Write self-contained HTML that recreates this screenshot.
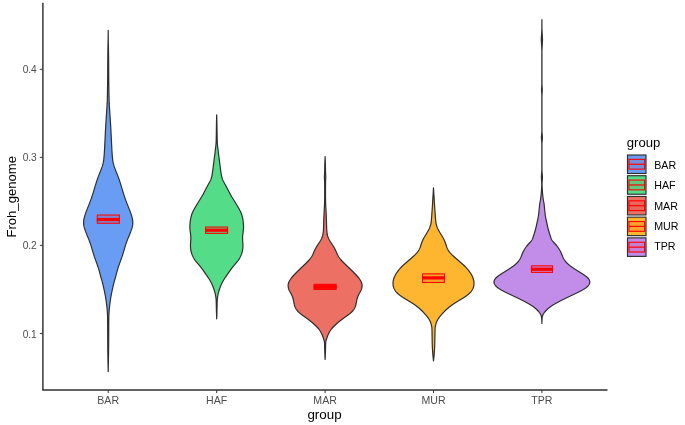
<!DOCTYPE html>
<html><head><meta charset="utf-8"><title>Froh_genome by group</title>
<style>
html,body{margin:0;padding:0;background:#fff;}
svg{display:block;}
text{font-family:"Liberation Sans",Arial,sans-serif;}
.tk{font-size:10.6px;fill:#4d4d4d;}
.ty{font-size:10.2px;fill:#4d4d4d;}
.tt{font-size:13.1px;fill:#000;}
.lg{font-size:10.7px;fill:#000;}
</style></head>
<body>
<svg width="685" height="425" viewBox="0 0 685 425">
<rect width="685" height="425" fill="#fff"/>
<path d="M108.20,30.40 L108.20,31.15 L108.19,31.90 L108.19,32.65 L108.18,33.40 L108.17,34.15 L108.17,34.90 L108.16,35.65 L108.15,36.40 L108.14,37.15 L108.13,37.90 L108.12,38.65 L108.11,39.40 L108.10,40.15 L108.08,40.90 L108.07,41.65 L108.05,42.40 L108.04,43.15 L108.02,43.90 L108.00,44.65 L107.98,45.40 L107.97,46.15 L107.95,46.90 L107.94,47.65 L107.93,48.40 L107.91,49.15 L107.90,49.90 L107.89,50.65 L107.88,51.40 L107.87,52.15 L107.86,52.90 L107.85,53.65 L107.84,54.40 L107.83,55.15 L107.82,55.90 L107.81,56.65 L107.81,57.40 L107.80,58.15 L107.79,58.90 L107.79,59.65 L107.78,60.40 L107.77,61.15 L107.77,61.90 L107.76,62.65 L107.76,63.40 L107.75,64.15 L107.75,64.90 L107.74,65.65 L107.74,66.40 L107.74,67.15 L107.73,67.90 L107.73,68.65 L107.72,69.40 L107.72,70.15 L107.72,70.90 L107.71,71.65 L107.71,72.40 L107.70,73.15 L107.70,73.90 L107.69,74.65 L107.69,75.40 L107.68,76.15 L107.68,76.90 L107.67,77.65 L107.66,78.40 L107.66,79.15 L107.65,79.90 L107.64,80.65 L107.63,81.40 L107.62,82.15 L107.61,82.90 L107.60,83.65 L107.59,84.40 L107.58,85.15 L107.57,85.90 L107.56,86.65 L107.54,87.40 L107.53,88.15 L107.52,88.90 L107.51,89.65 L107.49,90.40 L107.48,91.15 L107.47,91.90 L107.46,92.65 L107.44,93.40 L107.43,94.15 L107.42,94.90 L107.40,95.65 L107.39,96.40 L107.37,97.15 L107.35,97.90 L107.34,98.65 L107.32,99.40 L107.29,100.15 L107.27,100.90 L107.24,101.65 L107.21,102.40 L107.17,103.15 L107.14,103.90 L107.09,104.65 L107.05,105.40 L107.01,106.15 L106.96,106.90 L106.91,107.65 L106.86,108.40 L106.81,109.15 L106.76,109.90 L106.71,110.65 L106.67,111.40 L106.62,112.15 L106.57,112.90 L106.52,113.65 L106.48,114.40 L106.43,115.15 L106.38,115.90 L106.33,116.65 L106.29,117.40 L106.24,118.15 L106.19,118.90 L106.14,119.65 L106.09,120.40 L106.04,121.15 L105.99,121.90 L105.94,122.65 L105.89,123.40 L105.85,124.15 L105.80,124.90 L105.75,125.65 L105.71,126.40 L105.66,127.15 L105.62,127.90 L105.58,128.65 L105.53,129.40 L105.49,130.15 L105.45,130.90 L105.42,131.65 L105.38,132.40 L105.34,133.15 L105.30,133.90 L105.26,134.65 L105.23,135.40 L105.19,136.15 L105.15,136.90 L105.12,137.65 L105.08,138.40 L105.04,139.15 L105.01,139.90 L104.97,140.65 L104.93,141.40 L104.90,142.15 L104.86,142.90 L104.82,143.65 L104.79,144.40 L104.75,145.15 L104.72,145.90 L104.68,146.65 L104.64,147.40 L104.60,148.15 L104.56,148.90 L104.52,149.65 L104.48,150.40 L104.43,151.15 L104.38,151.90 L104.34,152.65 L104.29,153.40 L104.23,154.15 L104.18,154.90 L104.12,155.65 L104.06,156.40 L103.99,157.15 L103.92,157.90 L103.84,158.65 L103.76,159.40 L103.66,160.15 L103.55,160.90 L103.43,161.65 L103.28,162.40 L103.12,163.15 L102.93,163.90 L102.73,164.65 L102.52,165.40 L102.29,166.15 L102.05,166.90 L101.79,167.65 L101.52,168.40 L101.24,169.15 L100.95,169.90 L100.66,170.65 L100.36,171.40 L100.05,172.15 L99.75,172.90 L99.45,173.65 L99.15,174.40 L98.86,175.15 L98.57,175.90 L98.28,176.65 L98.01,177.40 L97.74,178.15 L97.47,178.90 L97.22,179.65 L96.96,180.40 L96.72,181.15 L96.47,181.90 L96.23,182.65 L96.00,183.40 L95.76,184.15 L95.53,184.90 L95.30,185.65 L95.08,186.40 L94.85,187.15 L94.63,187.90 L94.41,188.65 L94.19,189.40 L93.97,190.15 L93.74,190.90 L93.51,191.65 L93.28,192.40 L93.05,193.15 L92.81,193.90 L92.56,194.65 L92.32,195.40 L92.07,196.15 L91.82,196.90 L91.56,197.65 L91.30,198.40 L91.03,199.15 L90.76,199.90 L90.49,200.65 L90.21,201.40 L89.92,202.15 L89.63,202.90 L89.34,203.65 L89.04,204.40 L88.74,205.15 L88.44,205.90 L88.14,206.65 L87.84,207.40 L87.54,208.15 L87.24,208.90 L86.95,209.65 L86.65,210.40 L86.37,211.15 L86.08,211.90 L85.81,212.65 L85.54,213.40 L85.29,214.15 L85.04,214.90 L84.81,215.65 L84.60,216.40 L84.40,217.15 L84.22,217.90 L84.06,218.65 L83.91,219.40 L83.79,220.15 L83.70,220.90 L83.64,221.65 L83.61,222.40 L83.61,223.15 L83.64,223.90 L83.71,224.65 L83.81,225.40 L83.94,226.15 L84.10,226.90 L84.28,227.65 L84.50,228.40 L84.73,229.15 L84.99,229.90 L85.26,230.65 L85.54,231.40 L85.84,232.15 L86.14,232.90 L86.45,233.65 L86.75,234.40 L87.06,235.15 L87.37,235.90 L87.68,236.65 L87.99,237.40 L88.29,238.15 L88.58,238.90 L88.88,239.65 L89.16,240.40 L89.44,241.15 L89.72,241.90 L89.99,242.65 L90.25,243.40 L90.51,244.15 L90.75,244.90 L90.99,245.65 L91.23,246.40 L91.46,247.15 L91.68,247.90 L91.90,248.65 L92.12,249.40 L92.34,250.15 L92.56,250.90 L92.78,251.65 L93.01,252.40 L93.23,253.15 L93.46,253.90 L93.70,254.65 L93.94,255.40 L94.18,256.15 L94.44,256.90 L94.69,257.65 L94.96,258.40 L95.23,259.15 L95.50,259.90 L95.77,260.65 L96.04,261.40 L96.31,262.15 L96.58,262.90 L96.85,263.65 L97.11,264.40 L97.38,265.15 L97.64,265.90 L97.89,266.65 L98.14,267.40 L98.39,268.15 L98.62,268.90 L98.84,269.65 L99.06,270.40 L99.27,271.15 L99.47,271.90 L99.67,272.65 L99.86,273.40 L100.06,274.15 L100.26,274.90 L100.46,275.65 L100.66,276.40 L100.87,277.15 L101.09,277.90 L101.31,278.65 L101.53,279.40 L101.75,280.15 L101.97,280.90 L102.18,281.65 L102.39,282.40 L102.58,283.15 L102.77,283.90 L102.95,284.65 L103.13,285.40 L103.30,286.15 L103.47,286.90 L103.63,287.65 L103.80,288.40 L103.96,289.15 L104.12,289.90 L104.27,290.65 L104.43,291.40 L104.59,292.15 L104.74,292.90 L104.90,293.65 L105.05,294.40 L105.19,295.15 L105.33,295.90 L105.47,296.65 L105.60,297.40 L105.72,298.15 L105.84,298.90 L105.96,299.65 L106.07,300.40 L106.18,301.15 L106.28,301.90 L106.38,302.65 L106.48,303.40 L106.57,304.15 L106.66,304.90 L106.74,305.65 L106.83,306.40 L106.91,307.15 L106.99,307.90 L107.07,308.65 L107.14,309.40 L107.20,310.15 L107.26,310.90 L107.31,311.65 L107.36,312.40 L107.40,313.15 L107.44,313.90 L107.48,314.65 L107.52,315.40 L107.55,316.15 L107.57,316.90 L107.59,317.65 L107.60,318.40 L107.61,319.15 L107.62,319.90 L107.63,320.65 L107.63,321.40 L107.64,322.15 L107.64,322.90 L107.65,323.65 L107.65,324.40 L107.66,325.15 L107.66,325.90 L107.66,326.65 L107.67,327.40 L107.67,328.15 L107.67,328.90 L107.67,329.65 L107.68,330.40 L107.68,331.15 L107.68,331.90 L107.69,332.65 L107.69,333.40 L107.70,334.15 L107.70,334.90 L107.70,335.65 L107.71,336.40 L107.71,337.15 L107.72,337.90 L107.72,338.65 L107.73,339.40 L107.73,340.15 L107.73,340.90 L107.74,341.65 L107.74,342.40 L107.75,343.15 L107.75,343.90 L107.76,344.65 L107.76,345.40 L107.77,346.15 L107.77,346.90 L107.78,347.65 L107.79,348.40 L107.79,349.15 L107.80,349.90 L107.81,350.65 L107.82,351.40 L107.83,352.15 L107.84,352.90 L107.85,353.65 L107.86,354.40 L107.87,355.15 L107.89,355.90 L107.90,356.65 L107.91,357.40 L107.93,358.15 L107.94,358.90 L107.96,359.65 L107.97,360.40 L107.98,361.15 L108.00,361.90 L108.01,362.65 L108.03,363.40 L108.04,364.15 L108.06,364.90 L108.07,365.65 L108.09,366.40 L108.10,367.15 L108.12,367.90 L108.13,368.65 L108.15,369.40 L108.17,370.15 L108.18,370.90 L108.20,371.60 L108.20,371.60 L108.22,370.90 L108.23,370.15 L108.25,369.40 L108.27,368.65 L108.28,367.90 L108.30,367.15 L108.31,366.40 L108.33,365.65 L108.34,364.90 L108.36,364.15 L108.37,363.40 L108.39,362.65 L108.40,361.90 L108.42,361.15 L108.43,360.40 L108.44,359.65 L108.46,358.90 L108.47,358.15 L108.49,357.40 L108.50,356.65 L108.51,355.90 L108.53,355.15 L108.54,354.40 L108.55,353.65 L108.56,352.90 L108.57,352.15 L108.58,351.40 L108.59,350.65 L108.60,349.90 L108.61,349.15 L108.61,348.40 L108.62,347.65 L108.63,346.90 L108.63,346.15 L108.64,345.40 L108.64,344.65 L108.65,343.90 L108.65,343.15 L108.66,342.40 L108.66,341.65 L108.67,340.90 L108.67,340.15 L108.67,339.40 L108.68,338.65 L108.68,337.90 L108.69,337.15 L108.69,336.40 L108.70,335.65 L108.70,334.90 L108.70,334.15 L108.71,333.40 L108.71,332.65 L108.72,331.90 L108.72,331.15 L108.72,330.40 L108.73,329.65 L108.73,328.90 L108.73,328.15 L108.73,327.40 L108.74,326.65 L108.74,325.90 L108.74,325.15 L108.75,324.40 L108.75,323.65 L108.76,322.90 L108.76,322.15 L108.77,321.40 L108.77,320.65 L108.78,319.90 L108.79,319.15 L108.80,318.40 L108.81,317.65 L108.83,316.90 L108.85,316.15 L108.88,315.40 L108.92,314.65 L108.96,313.90 L109.00,313.15 L109.04,312.40 L109.09,311.65 L109.14,310.90 L109.20,310.15 L109.26,309.40 L109.33,308.65 L109.41,307.90 L109.49,307.15 L109.57,306.40 L109.66,305.65 L109.74,304.90 L109.83,304.15 L109.92,303.40 L110.02,302.65 L110.12,301.90 L110.22,301.15 L110.33,300.40 L110.44,299.65 L110.56,298.90 L110.68,298.15 L110.80,297.40 L110.93,296.65 L111.07,295.90 L111.21,295.15 L111.35,294.40 L111.50,293.65 L111.66,292.90 L111.81,292.15 L111.97,291.40 L112.13,290.65 L112.28,289.90 L112.44,289.15 L112.60,288.40 L112.77,287.65 L112.93,286.90 L113.10,286.15 L113.27,285.40 L113.45,284.65 L113.63,283.90 L113.82,283.15 L114.01,282.40 L114.22,281.65 L114.43,280.90 L114.65,280.15 L114.87,279.40 L115.09,278.65 L115.31,277.90 L115.53,277.15 L115.74,276.40 L115.94,275.65 L116.14,274.90 L116.34,274.15 L116.54,273.40 L116.73,272.65 L116.93,271.90 L117.13,271.15 L117.34,270.40 L117.56,269.65 L117.78,268.90 L118.01,268.15 L118.26,267.40 L118.51,266.65 L118.76,265.90 L119.02,265.15 L119.29,264.40 L119.55,263.65 L119.82,262.90 L120.09,262.15 L120.36,261.40 L120.63,260.65 L120.90,259.90 L121.17,259.15 L121.44,258.40 L121.71,257.65 L121.96,256.90 L122.22,256.15 L122.46,255.40 L122.70,254.65 L122.94,253.90 L123.17,253.15 L123.39,252.40 L123.62,251.65 L123.84,250.90 L124.06,250.15 L124.28,249.40 L124.50,248.65 L124.72,247.90 L124.94,247.15 L125.17,246.40 L125.41,245.65 L125.65,244.90 L125.89,244.15 L126.15,243.40 L126.41,242.65 L126.68,241.90 L126.96,241.15 L127.24,240.40 L127.52,239.65 L127.82,238.90 L128.11,238.15 L128.41,237.40 L128.72,236.65 L129.03,235.90 L129.34,235.15 L129.65,234.40 L129.95,233.65 L130.26,232.90 L130.56,232.15 L130.86,231.40 L131.14,230.65 L131.41,229.90 L131.67,229.15 L131.90,228.40 L132.12,227.65 L132.30,226.90 L132.46,226.15 L132.59,225.40 L132.69,224.65 L132.76,223.90 L132.79,223.15 L132.79,222.40 L132.76,221.65 L132.70,220.90 L132.61,220.15 L132.49,219.40 L132.34,218.65 L132.18,217.90 L132.00,217.15 L131.80,216.40 L131.59,215.65 L131.36,214.90 L131.11,214.15 L130.86,213.40 L130.59,212.65 L130.32,211.90 L130.03,211.15 L129.75,210.40 L129.45,209.65 L129.16,208.90 L128.86,208.15 L128.56,207.40 L128.26,206.65 L127.96,205.90 L127.66,205.15 L127.36,204.40 L127.06,203.65 L126.77,202.90 L126.48,202.15 L126.19,201.40 L125.91,200.65 L125.64,199.90 L125.37,199.15 L125.10,198.40 L124.84,197.65 L124.58,196.90 L124.33,196.15 L124.08,195.40 L123.84,194.65 L123.59,193.90 L123.35,193.15 L123.12,192.40 L122.89,191.65 L122.66,190.90 L122.43,190.15 L122.21,189.40 L121.99,188.65 L121.77,187.90 L121.55,187.15 L121.32,186.40 L121.10,185.65 L120.87,184.90 L120.64,184.15 L120.40,183.40 L120.17,182.65 L119.93,181.90 L119.68,181.15 L119.44,180.40 L119.18,179.65 L118.93,178.90 L118.66,178.15 L118.39,177.40 L118.12,176.65 L117.83,175.90 L117.54,175.15 L117.25,174.40 L116.95,173.65 L116.65,172.90 L116.35,172.15 L116.04,171.40 L115.74,170.65 L115.45,169.90 L115.16,169.15 L114.88,168.40 L114.61,167.65 L114.35,166.90 L114.11,166.15 L113.88,165.40 L113.67,164.65 L113.47,163.90 L113.28,163.15 L113.12,162.40 L112.97,161.65 L112.85,160.90 L112.74,160.15 L112.64,159.40 L112.56,158.65 L112.48,157.90 L112.41,157.15 L112.34,156.40 L112.28,155.65 L112.22,154.90 L112.17,154.15 L112.11,153.40 L112.06,152.65 L112.02,151.90 L111.97,151.15 L111.92,150.40 L111.88,149.65 L111.84,148.90 L111.80,148.15 L111.76,147.40 L111.72,146.65 L111.68,145.90 L111.65,145.15 L111.61,144.40 L111.58,143.65 L111.54,142.90 L111.50,142.15 L111.47,141.40 L111.43,140.65 L111.39,139.90 L111.36,139.15 L111.32,138.40 L111.28,137.65 L111.25,136.90 L111.21,136.15 L111.17,135.40 L111.14,134.65 L111.10,133.90 L111.06,133.15 L111.02,132.40 L110.98,131.65 L110.95,130.90 L110.91,130.15 L110.87,129.40 L110.82,128.65 L110.78,127.90 L110.74,127.15 L110.69,126.40 L110.65,125.65 L110.60,124.90 L110.55,124.15 L110.51,123.40 L110.46,122.65 L110.41,121.90 L110.36,121.15 L110.31,120.40 L110.26,119.65 L110.21,118.90 L110.16,118.15 L110.11,117.40 L110.07,116.65 L110.02,115.90 L109.97,115.15 L109.92,114.40 L109.88,113.65 L109.83,112.90 L109.78,112.15 L109.73,111.40 L109.69,110.65 L109.64,109.90 L109.59,109.15 L109.54,108.40 L109.49,107.65 L109.44,106.90 L109.39,106.15 L109.35,105.40 L109.31,104.65 L109.26,103.90 L109.23,103.15 L109.19,102.40 L109.16,101.65 L109.13,100.90 L109.11,100.15 L109.08,99.40 L109.06,98.65 L109.05,97.90 L109.03,97.15 L109.01,96.40 L109.00,95.65 L108.98,94.90 L108.97,94.15 L108.96,93.40 L108.94,92.65 L108.93,91.90 L108.92,91.15 L108.91,90.40 L108.89,89.65 L108.88,88.90 L108.87,88.15 L108.86,87.40 L108.84,86.65 L108.83,85.90 L108.82,85.15 L108.81,84.40 L108.80,83.65 L108.79,82.90 L108.78,82.15 L108.77,81.40 L108.76,80.65 L108.75,79.90 L108.74,79.15 L108.74,78.40 L108.73,77.65 L108.72,76.90 L108.72,76.15 L108.71,75.40 L108.71,74.65 L108.70,73.90 L108.70,73.15 L108.69,72.40 L108.69,71.65 L108.68,70.90 L108.68,70.15 L108.68,69.40 L108.67,68.65 L108.67,67.90 L108.66,67.15 L108.66,66.40 L108.66,65.65 L108.65,64.90 L108.65,64.15 L108.64,63.40 L108.64,62.65 L108.63,61.90 L108.63,61.15 L108.62,60.40 L108.61,59.65 L108.61,58.90 L108.60,58.15 L108.59,57.40 L108.59,56.65 L108.58,55.90 L108.57,55.15 L108.56,54.40 L108.55,53.65 L108.54,52.90 L108.53,52.15 L108.52,51.40 L108.51,50.65 L108.50,49.90 L108.49,49.15 L108.47,48.40 L108.46,47.65 L108.45,46.90 L108.43,46.15 L108.42,45.40 L108.40,44.65 L108.38,43.90 L108.36,43.15 L108.35,42.40 L108.33,41.65 L108.32,40.90 L108.30,40.15 L108.29,39.40 L108.28,38.65 L108.27,37.90 L108.26,37.15 L108.25,36.40 L108.24,35.65 L108.23,34.90 L108.23,34.15 L108.22,33.40 L108.21,32.65 L108.21,31.90 L108.20,31.15 L108.20,30.40Z" fill="#699df3" stroke="#2e2e2e" stroke-width="1.2" stroke-linejoin="round"/>
<path d="M216.70,114.80 L216.68,115.55 L216.66,116.30 L216.64,117.05 L216.62,117.80 L216.60,118.55 L216.58,119.30 L216.56,120.05 L216.54,120.80 L216.52,121.55 L216.51,122.30 L216.49,123.05 L216.47,123.80 L216.46,124.55 L216.45,125.30 L216.43,126.05 L216.42,126.80 L216.41,127.55 L216.40,128.30 L216.39,129.05 L216.38,129.80 L216.37,130.55 L216.36,131.30 L216.35,132.05 L216.34,132.80 L216.33,133.55 L216.31,134.30 L216.30,135.05 L216.28,135.80 L216.27,136.55 L216.25,137.30 L216.24,138.05 L216.22,138.80 L216.20,139.55 L216.18,140.30 L216.16,141.05 L216.13,141.80 L216.10,142.55 L216.06,143.30 L216.00,144.05 L215.94,144.80 L215.87,145.55 L215.78,146.30 L215.70,147.05 L215.60,147.80 L215.51,148.55 L215.42,149.30 L215.33,150.05 L215.24,150.80 L215.15,151.55 L215.06,152.30 L214.97,153.05 L214.88,153.80 L214.78,154.55 L214.68,155.30 L214.59,156.05 L214.49,156.80 L214.39,157.55 L214.30,158.30 L214.20,159.05 L214.11,159.80 L214.01,160.55 L213.91,161.30 L213.81,162.05 L213.72,162.80 L213.62,163.55 L213.52,164.30 L213.42,165.05 L213.33,165.80 L213.23,166.55 L213.14,167.30 L213.04,168.05 L212.95,168.80 L212.86,169.55 L212.76,170.30 L212.66,171.05 L212.56,171.80 L212.45,172.55 L212.33,173.30 L212.21,174.05 L212.08,174.80 L211.94,175.55 L211.79,176.30 L211.62,177.05 L211.43,177.80 L211.20,178.55 L210.92,179.30 L210.61,180.05 L210.27,180.80 L209.90,181.55 L209.50,182.30 L209.09,183.05 L208.66,183.80 L208.25,184.55 L207.84,185.30 L207.44,186.05 L207.04,186.80 L206.65,187.55 L206.26,188.30 L205.86,189.05 L205.47,189.80 L205.07,190.55 L204.68,191.30 L204.29,192.05 L203.90,192.80 L203.51,193.55 L203.11,194.30 L202.70,195.05 L202.28,195.80 L201.84,196.55 L201.38,197.30 L200.92,198.05 L200.45,198.80 L199.98,199.55 L199.51,200.30 L199.04,201.05 L198.57,201.80 L198.11,202.55 L197.65,203.30 L197.19,204.05 L196.73,204.80 L196.28,205.55 L195.84,206.30 L195.39,207.05 L194.96,207.80 L194.53,208.55 L194.12,209.30 L193.71,210.05 L193.32,210.80 L192.96,211.55 L192.61,212.30 L192.29,213.05 L191.99,213.80 L191.72,214.55 L191.47,215.30 L191.25,216.05 L191.06,216.80 L190.88,217.55 L190.73,218.30 L190.59,219.05 L190.46,219.80 L190.35,220.55 L190.26,221.30 L190.17,222.05 L190.09,222.80 L190.03,223.55 L189.97,224.30 L189.92,225.05 L189.89,225.80 L189.88,226.55 L189.88,227.30 L189.90,228.05 L189.94,228.80 L190.01,229.55 L190.08,230.30 L190.17,231.05 L190.27,231.80 L190.37,232.55 L190.47,233.30 L190.57,234.05 L190.65,234.80 L190.72,235.55 L190.77,236.30 L190.81,237.05 L190.82,237.80 L190.81,238.55 L190.79,239.30 L190.76,240.05 L190.71,240.80 L190.67,241.55 L190.62,242.30 L190.57,243.05 L190.53,243.80 L190.50,244.55 L190.48,245.30 L190.48,246.05 L190.50,246.80 L190.54,247.55 L190.60,248.30 L190.69,249.05 L190.80,249.80 L190.93,250.55 L191.09,251.30 L191.27,252.05 L191.47,252.80 L191.70,253.55 L191.96,254.30 L192.24,255.05 L192.55,255.80 L192.90,256.55 L193.28,257.30 L193.69,258.05 L194.14,258.80 L194.64,259.55 L195.18,260.30 L195.75,261.05 L196.36,261.80 L196.99,262.55 L197.64,263.30 L198.28,264.05 L198.92,264.80 L199.55,265.55 L200.16,266.30 L200.75,267.05 L201.33,267.80 L201.89,268.55 L202.44,269.30 L202.98,270.05 L203.51,270.80 L204.04,271.55 L204.57,272.30 L205.09,273.05 L205.61,273.80 L206.13,274.55 L206.65,275.30 L207.17,276.05 L207.69,276.80 L208.19,277.55 L208.67,278.30 L209.14,279.05 L209.59,279.80 L210.03,280.55 L210.45,281.30 L210.86,282.05 L211.24,282.80 L211.61,283.55 L211.96,284.30 L212.29,285.05 L212.62,285.80 L212.92,286.55 L213.22,287.30 L213.50,288.05 L213.77,288.80 L214.02,289.55 L214.27,290.30 L214.50,291.05 L214.71,291.80 L214.91,292.55 L215.11,293.30 L215.29,294.05 L215.46,294.80 L215.61,295.55 L215.73,296.30 L215.84,297.05 L215.92,297.80 L216.00,298.55 L216.07,299.30 L216.13,300.05 L216.17,300.80 L216.21,301.55 L216.23,302.30 L216.25,303.05 L216.27,303.80 L216.29,304.55 L216.31,305.30 L216.32,306.05 L216.33,306.80 L216.35,307.55 L216.36,308.30 L216.38,309.05 L216.40,309.80 L216.42,310.55 L216.44,311.30 L216.46,312.05 L216.48,312.80 L216.51,313.55 L216.53,314.30 L216.56,315.05 L216.59,315.80 L216.61,316.55 L216.64,317.30 L216.67,318.05 L216.70,318.80 L216.70,318.80 L216.73,318.05 L216.76,317.30 L216.79,316.55 L216.81,315.80 L216.84,315.05 L216.87,314.30 L216.89,313.55 L216.92,312.80 L216.94,312.05 L216.96,311.30 L216.98,310.55 L217.00,309.80 L217.02,309.05 L217.04,308.30 L217.05,307.55 L217.07,306.80 L217.08,306.05 L217.09,305.30 L217.11,304.55 L217.13,303.80 L217.15,303.05 L217.17,302.30 L217.19,301.55 L217.23,300.80 L217.27,300.05 L217.33,299.30 L217.40,298.55 L217.48,297.80 L217.56,297.05 L217.67,296.30 L217.79,295.55 L217.94,294.80 L218.11,294.05 L218.29,293.30 L218.49,292.55 L218.69,291.80 L218.90,291.05 L219.13,290.30 L219.38,289.55 L219.63,288.80 L219.90,288.05 L220.18,287.30 L220.48,286.55 L220.78,285.80 L221.11,285.05 L221.44,284.30 L221.79,283.55 L222.16,282.80 L222.54,282.05 L222.95,281.30 L223.37,280.55 L223.81,279.80 L224.26,279.05 L224.73,278.30 L225.21,277.55 L225.71,276.80 L226.23,276.05 L226.75,275.30 L227.27,274.55 L227.79,273.80 L228.31,273.05 L228.83,272.30 L229.36,271.55 L229.89,270.80 L230.42,270.05 L230.96,269.30 L231.51,268.55 L232.07,267.80 L232.65,267.05 L233.24,266.30 L233.85,265.55 L234.48,264.80 L235.12,264.05 L235.76,263.30 L236.41,262.55 L237.04,261.80 L237.65,261.05 L238.22,260.30 L238.76,259.55 L239.26,258.80 L239.71,258.05 L240.12,257.30 L240.50,256.55 L240.85,255.80 L241.16,255.05 L241.44,254.30 L241.70,253.55 L241.93,252.80 L242.13,252.05 L242.31,251.30 L242.47,250.55 L242.60,249.80 L242.71,249.05 L242.80,248.30 L242.86,247.55 L242.90,246.80 L242.92,246.05 L242.92,245.30 L242.90,244.55 L242.87,243.80 L242.83,243.05 L242.78,242.30 L242.73,241.55 L242.69,240.80 L242.64,240.05 L242.61,239.30 L242.59,238.55 L242.58,237.80 L242.59,237.05 L242.63,236.30 L242.68,235.55 L242.75,234.80 L242.83,234.05 L242.93,233.30 L243.03,232.55 L243.13,231.80 L243.23,231.05 L243.32,230.30 L243.39,229.55 L243.46,228.80 L243.50,228.05 L243.52,227.30 L243.52,226.55 L243.51,225.80 L243.48,225.05 L243.43,224.30 L243.37,223.55 L243.31,222.80 L243.23,222.05 L243.14,221.30 L243.05,220.55 L242.94,219.80 L242.81,219.05 L242.67,218.30 L242.52,217.55 L242.34,216.80 L242.15,216.05 L241.93,215.30 L241.68,214.55 L241.41,213.80 L241.11,213.05 L240.79,212.30 L240.44,211.55 L240.08,210.80 L239.69,210.05 L239.28,209.30 L238.87,208.55 L238.44,207.80 L238.01,207.05 L237.56,206.30 L237.12,205.55 L236.67,204.80 L236.21,204.05 L235.75,203.30 L235.29,202.55 L234.83,201.80 L234.36,201.05 L233.89,200.30 L233.42,199.55 L232.95,198.80 L232.48,198.05 L232.02,197.30 L231.56,196.55 L231.12,195.80 L230.70,195.05 L230.29,194.30 L229.89,193.55 L229.50,192.80 L229.11,192.05 L228.72,191.30 L228.33,190.55 L227.93,189.80 L227.54,189.05 L227.14,188.30 L226.75,187.55 L226.36,186.80 L225.96,186.05 L225.56,185.30 L225.15,184.55 L224.74,183.80 L224.31,183.05 L223.90,182.30 L223.50,181.55 L223.13,180.80 L222.79,180.05 L222.48,179.30 L222.20,178.55 L221.97,177.80 L221.78,177.05 L221.61,176.30 L221.46,175.55 L221.32,174.80 L221.19,174.05 L221.07,173.30 L220.95,172.55 L220.84,171.80 L220.74,171.05 L220.64,170.30 L220.54,169.55 L220.45,168.80 L220.36,168.05 L220.26,167.30 L220.17,166.55 L220.07,165.80 L219.98,165.05 L219.88,164.30 L219.78,163.55 L219.68,162.80 L219.59,162.05 L219.49,161.30 L219.39,160.55 L219.29,159.80 L219.20,159.05 L219.10,158.30 L219.01,157.55 L218.91,156.80 L218.81,156.05 L218.72,155.30 L218.62,154.55 L218.52,153.80 L218.43,153.05 L218.34,152.30 L218.25,151.55 L218.16,150.80 L218.07,150.05 L217.98,149.30 L217.89,148.55 L217.80,147.80 L217.70,147.05 L217.62,146.30 L217.53,145.55 L217.46,144.80 L217.40,144.05 L217.34,143.30 L217.30,142.55 L217.27,141.80 L217.24,141.05 L217.22,140.30 L217.20,139.55 L217.18,138.80 L217.16,138.05 L217.15,137.30 L217.13,136.55 L217.12,135.80 L217.10,135.05 L217.09,134.30 L217.07,133.55 L217.06,132.80 L217.05,132.05 L217.04,131.30 L217.03,130.55 L217.02,129.80 L217.01,129.05 L217.00,128.30 L216.99,127.55 L216.98,126.80 L216.97,126.05 L216.95,125.30 L216.94,124.55 L216.93,123.80 L216.91,123.05 L216.89,122.30 L216.88,121.55 L216.86,120.80 L216.84,120.05 L216.82,119.30 L216.80,118.55 L216.78,117.80 L216.76,117.05 L216.74,116.30 L216.72,115.55 L216.70,114.80Z" fill="#54dc89" stroke="#2e2e2e" stroke-width="1.2" stroke-linejoin="round"/>
<path d="M325.10,156.50 L325.07,157.25 L325.04,158.00 L325.01,158.75 L324.98,159.50 L324.95,160.25 L324.92,161.00 L324.90,161.75 L324.87,162.50 L324.85,163.25 L324.83,164.00 L324.81,164.75 L324.79,165.50 L324.77,166.25 L324.76,167.00 L324.74,167.75 L324.73,168.50 L324.71,169.25 L324.70,170.00 L324.68,170.75 L324.66,171.50 L324.63,172.25 L324.60,173.00 L324.55,173.75 L324.51,174.50 L324.46,175.25 L324.43,176.00 L324.41,176.75 L324.42,177.50 L324.45,178.25 L324.49,179.00 L324.54,179.75 L324.58,180.50 L324.62,181.25 L324.64,182.00 L324.65,182.75 L324.66,183.50 L324.67,184.25 L324.67,185.00 L324.68,185.75 L324.68,186.50 L324.68,187.25 L324.69,188.00 L324.69,188.75 L324.69,189.50 L324.69,190.25 L324.70,191.00 L324.70,191.75 L324.70,192.50 L324.70,193.25 L324.70,194.00 L324.70,194.75 L324.70,195.50 L324.69,196.25 L324.69,197.00 L324.68,197.75 L324.67,198.50 L324.65,199.25 L324.64,200.00 L324.62,200.75 L324.60,201.50 L324.58,202.25 L324.56,203.00 L324.54,203.75 L324.51,204.50 L324.49,205.25 L324.46,206.00 L324.42,206.75 L324.38,207.50 L324.33,208.25 L324.29,209.00 L324.24,209.75 L324.19,210.50 L324.15,211.25 L324.11,212.00 L324.07,212.75 L324.03,213.50 L324.00,214.25 L323.96,215.00 L323.93,215.75 L323.90,216.50 L323.87,217.25 L323.84,218.00 L323.81,218.75 L323.79,219.50 L323.77,220.25 L323.74,221.00 L323.72,221.75 L323.71,222.50 L323.69,223.25 L323.67,224.00 L323.65,224.75 L323.62,225.50 L323.60,226.25 L323.57,227.00 L323.54,227.75 L323.50,228.50 L323.47,229.25 L323.42,230.00 L323.37,230.75 L323.30,231.50 L323.23,232.25 L323.14,233.00 L323.03,233.75 L322.90,234.50 L322.73,235.25 L322.52,236.00 L322.27,236.75 L321.99,237.50 L321.67,238.25 L321.33,239.00 L320.95,239.75 L320.53,240.50 L320.08,241.25 L319.60,242.00 L319.12,242.75 L318.64,243.50 L318.14,244.25 L317.65,245.00 L317.15,245.75 L316.68,246.50 L316.23,247.25 L315.81,248.00 L315.41,248.75 L315.03,249.50 L314.66,250.25 L314.32,251.00 L313.98,251.75 L313.66,252.50 L313.35,253.25 L313.03,254.00 L312.68,254.75 L312.29,255.50 L311.87,256.25 L311.40,257.00 L310.88,257.75 L310.32,258.50 L309.72,259.25 L309.08,260.00 L308.41,260.75 L307.71,261.50 L306.98,262.25 L306.23,263.00 L305.47,263.75 L304.69,264.50 L303.91,265.25 L303.12,266.00 L302.33,266.75 L301.54,267.50 L300.76,268.25 L299.98,269.00 L299.21,269.75 L298.44,270.50 L297.68,271.25 L296.92,272.00 L296.18,272.75 L295.44,273.50 L294.72,274.25 L294.01,275.00 L293.32,275.75 L292.66,276.50 L292.02,277.25 L291.41,278.00 L290.85,278.75 L290.32,279.50 L289.84,280.25 L289.41,281.00 L289.03,281.75 L288.72,282.50 L288.47,283.25 L288.29,284.00 L288.17,284.75 L288.12,285.50 L288.14,286.25 L288.21,287.00 L288.34,287.75 L288.52,288.50 L288.76,289.25 L289.06,290.00 L289.40,290.75 L289.77,291.50 L290.18,292.25 L290.60,293.00 L291.02,293.75 L291.42,294.50 L291.80,295.25 L292.15,296.00 L292.45,296.75 L292.72,297.50 L292.95,298.25 L293.15,299.00 L293.33,299.75 L293.49,300.50 L293.64,301.25 L293.78,302.00 L293.92,302.75 L294.07,303.50 L294.24,304.25 L294.42,305.00 L294.64,305.75 L294.88,306.50 L295.18,307.25 L295.52,308.00 L295.93,308.75 L296.41,309.50 L296.96,310.25 L297.60,311.00 L298.31,311.75 L299.09,312.50 L299.95,313.25 L300.87,314.00 L301.84,314.75 L302.85,315.50 L303.88,316.25 L304.93,317.00 L305.98,317.75 L307.02,318.50 L308.04,319.25 L309.04,320.00 L310.01,320.75 L310.95,321.50 L311.86,322.25 L312.72,323.00 L313.57,323.75 L314.39,324.50 L315.19,325.25 L315.98,326.00 L316.73,326.75 L317.45,327.50 L318.11,328.25 L318.72,329.00 L319.28,329.75 L319.80,330.50 L320.28,331.25 L320.73,332.00 L321.15,332.75 L321.53,333.50 L321.88,334.25 L322.21,335.00 L322.52,335.75 L322.81,336.50 L323.08,337.25 L323.33,338.00 L323.58,338.75 L323.82,339.50 L324.05,340.25 L324.25,341.00 L324.39,341.75 L324.48,342.50 L324.53,343.25 L324.56,344.00 L324.59,344.75 L324.60,345.50 L324.62,346.25 L324.63,347.00 L324.65,347.75 L324.66,348.50 L324.68,349.25 L324.70,350.00 L324.73,350.75 L324.75,351.50 L324.78,352.25 L324.81,353.00 L324.84,353.75 L324.87,354.50 L324.90,355.25 L324.94,356.00 L324.97,356.75 L325.01,357.50 L325.04,358.25 L325.07,359.00 L325.10,359.40 L325.10,359.40 L325.13,359.00 L325.16,358.25 L325.19,357.50 L325.23,356.75 L325.26,356.00 L325.30,355.25 L325.33,354.50 L325.36,353.75 L325.39,353.00 L325.42,352.25 L325.45,351.50 L325.47,350.75 L325.50,350.00 L325.52,349.25 L325.54,348.50 L325.55,347.75 L325.57,347.00 L325.58,346.25 L325.60,345.50 L325.61,344.75 L325.64,344.00 L325.67,343.25 L325.72,342.50 L325.81,341.75 L325.95,341.00 L326.15,340.25 L326.38,339.50 L326.62,338.75 L326.87,338.00 L327.12,337.25 L327.39,336.50 L327.68,335.75 L327.99,335.00 L328.32,334.25 L328.67,333.50 L329.05,332.75 L329.47,332.00 L329.92,331.25 L330.40,330.50 L330.92,329.75 L331.48,329.00 L332.09,328.25 L332.75,327.50 L333.47,326.75 L334.22,326.00 L335.01,325.25 L335.81,324.50 L336.63,323.75 L337.48,323.00 L338.34,322.25 L339.25,321.50 L340.19,320.75 L341.16,320.00 L342.16,319.25 L343.18,318.50 L344.22,317.75 L345.27,317.00 L346.32,316.25 L347.35,315.50 L348.36,314.75 L349.33,314.00 L350.25,313.25 L351.11,312.50 L351.89,311.75 L352.60,311.00 L353.24,310.25 L353.79,309.50 L354.27,308.75 L354.68,308.00 L355.02,307.25 L355.32,306.50 L355.56,305.75 L355.78,305.00 L355.96,304.25 L356.13,303.50 L356.28,302.75 L356.42,302.00 L356.56,301.25 L356.71,300.50 L356.87,299.75 L357.05,299.00 L357.25,298.25 L357.48,297.50 L357.75,296.75 L358.05,296.00 L358.40,295.25 L358.78,294.50 L359.18,293.75 L359.60,293.00 L360.02,292.25 L360.43,291.50 L360.80,290.75 L361.14,290.00 L361.44,289.25 L361.68,288.50 L361.86,287.75 L361.99,287.00 L362.06,286.25 L362.08,285.50 L362.03,284.75 L361.91,284.00 L361.73,283.25 L361.48,282.50 L361.17,281.75 L360.79,281.00 L360.36,280.25 L359.88,279.50 L359.35,278.75 L358.79,278.00 L358.18,277.25 L357.54,276.50 L356.88,275.75 L356.19,275.00 L355.48,274.25 L354.76,273.50 L354.02,272.75 L353.28,272.00 L352.52,271.25 L351.76,270.50 L350.99,269.75 L350.22,269.00 L349.44,268.25 L348.66,267.50 L347.87,266.75 L347.08,266.00 L346.29,265.25 L345.51,264.50 L344.73,263.75 L343.97,263.00 L343.22,262.25 L342.49,261.50 L341.79,260.75 L341.12,260.00 L340.48,259.25 L339.88,258.50 L339.32,257.75 L338.80,257.00 L338.33,256.25 L337.91,255.50 L337.52,254.75 L337.17,254.00 L336.85,253.25 L336.54,252.50 L336.22,251.75 L335.88,251.00 L335.54,250.25 L335.17,249.50 L334.79,248.75 L334.39,248.00 L333.97,247.25 L333.52,246.50 L333.05,245.75 L332.55,245.00 L332.06,244.25 L331.56,243.50 L331.08,242.75 L330.60,242.00 L330.12,241.25 L329.67,240.50 L329.25,239.75 L328.87,239.00 L328.53,238.25 L328.21,237.50 L327.93,236.75 L327.68,236.00 L327.47,235.25 L327.30,234.50 L327.17,233.75 L327.06,233.00 L326.97,232.25 L326.90,231.50 L326.83,230.75 L326.78,230.00 L326.73,229.25 L326.70,228.50 L326.66,227.75 L326.63,227.00 L326.60,226.25 L326.58,225.50 L326.55,224.75 L326.53,224.00 L326.51,223.25 L326.49,222.50 L326.48,221.75 L326.46,221.00 L326.43,220.25 L326.41,219.50 L326.39,218.75 L326.36,218.00 L326.33,217.25 L326.30,216.50 L326.27,215.75 L326.24,215.00 L326.20,214.25 L326.17,213.50 L326.13,212.75 L326.09,212.00 L326.05,211.25 L326.01,210.50 L325.96,209.75 L325.91,209.00 L325.87,208.25 L325.82,207.50 L325.78,206.75 L325.74,206.00 L325.71,205.25 L325.69,204.50 L325.66,203.75 L325.64,203.00 L325.62,202.25 L325.60,201.50 L325.58,200.75 L325.56,200.00 L325.55,199.25 L325.53,198.50 L325.52,197.75 L325.51,197.00 L325.51,196.25 L325.50,195.50 L325.50,194.75 L325.50,194.00 L325.50,193.25 L325.50,192.50 L325.50,191.75 L325.50,191.00 L325.51,190.25 L325.51,189.50 L325.51,188.75 L325.51,188.00 L325.52,187.25 L325.52,186.50 L325.52,185.75 L325.53,185.00 L325.53,184.25 L325.54,183.50 L325.55,182.75 L325.56,182.00 L325.58,181.25 L325.62,180.50 L325.66,179.75 L325.71,179.00 L325.75,178.25 L325.78,177.50 L325.79,176.75 L325.77,176.00 L325.74,175.25 L325.69,174.50 L325.65,173.75 L325.60,173.00 L325.57,172.25 L325.54,171.50 L325.52,170.75 L325.50,170.00 L325.49,169.25 L325.47,168.50 L325.46,167.75 L325.44,167.00 L325.43,166.25 L325.41,165.50 L325.39,164.75 L325.37,164.00 L325.35,163.25 L325.33,162.50 L325.30,161.75 L325.28,161.00 L325.25,160.25 L325.22,159.50 L325.19,158.75 L325.16,158.00 L325.13,157.25 L325.10,156.50Z" fill="#ec7064" stroke="#2e2e2e" stroke-width="1.2" stroke-linejoin="round"/>
<path d="M433.50,187.80 L433.46,188.55 L433.42,189.30 L433.37,190.05 L433.33,190.80 L433.29,191.55 L433.24,192.30 L433.20,193.05 L433.15,193.80 L433.10,194.55 L433.05,195.30 L433.00,196.05 L432.95,196.80 L432.90,197.55 L432.85,198.30 L432.80,199.05 L432.76,199.80 L432.72,200.55 L432.68,201.30 L432.63,202.05 L432.59,202.80 L432.55,203.55 L432.51,204.30 L432.47,205.05 L432.42,205.80 L432.38,206.55 L432.33,207.30 L432.28,208.05 L432.22,208.80 L432.17,209.55 L432.11,210.30 L432.06,211.05 L432.00,211.80 L431.95,212.55 L431.89,213.30 L431.84,214.05 L431.79,214.80 L431.75,215.55 L431.70,216.30 L431.64,217.05 L431.59,217.80 L431.53,218.55 L431.46,219.30 L431.39,220.05 L431.31,220.80 L431.22,221.55 L431.11,222.30 L430.99,223.05 L430.85,223.80 L430.68,224.55 L430.47,225.30 L430.25,226.05 L430.00,226.80 L429.72,227.55 L429.41,228.30 L429.06,229.05 L428.68,229.80 L428.28,230.55 L427.86,231.30 L427.44,232.05 L427.00,232.80 L426.54,233.55 L426.09,234.30 L425.63,235.05 L425.17,235.80 L424.72,236.55 L424.28,237.30 L423.85,238.05 L423.45,238.80 L423.06,239.55 L422.70,240.30 L422.37,241.05 L422.07,241.80 L421.80,242.55 L421.54,243.30 L421.29,244.05 L421.05,244.80 L420.81,245.55 L420.56,246.30 L420.30,247.05 L420.00,247.80 L419.66,248.55 L419.27,249.30 L418.82,250.05 L418.33,250.80 L417.78,251.55 L417.20,252.30 L416.58,253.05 L415.91,253.80 L415.21,254.55 L414.47,255.30 L413.70,256.05 L412.90,256.80 L412.08,257.55 L411.24,258.30 L410.39,259.05 L409.53,259.80 L408.66,260.55 L407.78,261.30 L406.91,262.05 L406.04,262.80 L405.18,263.55 L404.33,264.30 L403.49,265.05 L402.68,265.80 L401.90,266.55 L401.14,267.30 L400.41,268.05 L399.73,268.80 L399.08,269.55 L398.46,270.30 L397.89,271.05 L397.35,271.80 L396.84,272.55 L396.37,273.30 L395.92,274.05 L395.49,274.80 L395.10,275.55 L394.73,276.30 L394.39,277.05 L394.09,277.80 L393.82,278.55 L393.58,279.30 L393.39,280.05 L393.23,280.80 L393.11,281.55 L393.04,282.30 L393.00,283.05 L393.00,283.80 L393.05,284.55 L393.13,285.30 L393.26,286.05 L393.43,286.80 L393.66,287.55 L393.95,288.30 L394.29,289.05 L394.70,289.80 L395.18,290.55 L395.72,291.30 L396.34,292.05 L397.03,292.80 L397.79,293.55 L398.62,294.30 L399.53,295.05 L400.51,295.80 L401.56,296.55 L402.67,297.30 L403.83,298.05 L405.03,298.80 L406.27,299.55 L407.52,300.30 L408.78,301.05 L410.03,301.80 L411.25,302.55 L412.43,303.30 L413.57,304.05 L414.66,304.80 L415.70,305.55 L416.69,306.30 L417.65,307.05 L418.58,307.80 L419.46,308.55 L420.31,309.30 L421.13,310.05 L421.92,310.80 L422.68,311.55 L423.41,312.30 L424.12,313.05 L424.81,313.80 L425.48,314.55 L426.14,315.30 L426.77,316.05 L427.36,316.80 L427.91,317.55 L428.41,318.30 L428.88,319.05 L429.32,319.80 L429.73,320.55 L430.10,321.30 L430.43,322.05 L430.71,322.80 L430.96,323.55 L431.18,324.30 L431.39,325.05 L431.56,325.80 L431.71,326.55 L431.82,327.30 L431.89,328.05 L431.93,328.80 L431.96,329.55 L431.98,330.30 L432.00,331.05 L432.02,331.80 L432.03,332.55 L432.05,333.30 L432.06,334.05 L432.07,334.80 L432.09,335.55 L432.10,336.30 L432.12,337.05 L432.13,337.80 L432.14,338.55 L432.15,339.30 L432.16,340.05 L432.18,340.80 L432.19,341.55 L432.20,342.30 L432.22,343.05 L432.24,343.80 L432.26,344.55 L432.28,345.30 L432.31,346.05 L432.34,346.80 L432.38,347.55 L432.42,348.30 L432.46,349.05 L432.51,349.80 L432.56,350.55 L432.60,351.30 L432.66,352.05 L432.71,352.80 L432.76,353.55 L432.82,354.30 L432.89,355.05 L432.95,355.80 L433.02,356.55 L433.10,357.30 L433.17,358.05 L433.25,358.80 L433.33,359.55 L433.41,360.30 L433.50,361.00 L433.50,361.00 L433.59,360.30 L433.67,359.55 L433.75,358.80 L433.83,358.05 L433.90,357.30 L433.98,356.55 L434.05,355.80 L434.11,355.05 L434.18,354.30 L434.24,353.55 L434.29,352.80 L434.34,352.05 L434.40,351.30 L434.44,350.55 L434.49,349.80 L434.54,349.05 L434.58,348.30 L434.62,347.55 L434.66,346.80 L434.69,346.05 L434.72,345.30 L434.74,344.55 L434.76,343.80 L434.78,343.05 L434.80,342.30 L434.81,341.55 L434.82,340.80 L434.84,340.05 L434.85,339.30 L434.86,338.55 L434.87,337.80 L434.88,337.05 L434.90,336.30 L434.91,335.55 L434.93,334.80 L434.94,334.05 L434.95,333.30 L434.97,332.55 L434.98,331.80 L435.00,331.05 L435.02,330.30 L435.04,329.55 L435.07,328.80 L435.11,328.05 L435.18,327.30 L435.29,326.55 L435.44,325.80 L435.61,325.05 L435.82,324.30 L436.04,323.55 L436.29,322.80 L436.57,322.05 L436.90,321.30 L437.27,320.55 L437.68,319.80 L438.12,319.05 L438.59,318.30 L439.09,317.55 L439.64,316.80 L440.23,316.05 L440.86,315.30 L441.52,314.55 L442.19,313.80 L442.88,313.05 L443.59,312.30 L444.32,311.55 L445.08,310.80 L445.87,310.05 L446.69,309.30 L447.54,308.55 L448.42,307.80 L449.35,307.05 L450.31,306.30 L451.30,305.55 L452.34,304.80 L453.43,304.05 L454.57,303.30 L455.75,302.55 L456.97,301.80 L458.22,301.05 L459.48,300.30 L460.73,299.55 L461.97,298.80 L463.17,298.05 L464.33,297.30 L465.44,296.55 L466.49,295.80 L467.47,295.05 L468.38,294.30 L469.21,293.55 L469.97,292.80 L470.66,292.05 L471.28,291.30 L471.82,290.55 L472.30,289.80 L472.71,289.05 L473.05,288.30 L473.34,287.55 L473.57,286.80 L473.74,286.05 L473.87,285.30 L473.95,284.55 L474.00,283.80 L474.00,283.05 L473.96,282.30 L473.89,281.55 L473.77,280.80 L473.61,280.05 L473.42,279.30 L473.18,278.55 L472.91,277.80 L472.61,277.05 L472.27,276.30 L471.90,275.55 L471.51,274.80 L471.08,274.05 L470.63,273.30 L470.16,272.55 L469.65,271.80 L469.11,271.05 L468.54,270.30 L467.92,269.55 L467.27,268.80 L466.59,268.05 L465.86,267.30 L465.10,266.55 L464.32,265.80 L463.51,265.05 L462.67,264.30 L461.82,263.55 L460.96,262.80 L460.09,262.05 L459.22,261.30 L458.34,260.55 L457.47,259.80 L456.61,259.05 L455.76,258.30 L454.92,257.55 L454.10,256.80 L453.30,256.05 L452.53,255.30 L451.79,254.55 L451.09,253.80 L450.42,253.05 L449.80,252.30 L449.22,251.55 L448.67,250.80 L448.18,250.05 L447.73,249.30 L447.34,248.55 L447.00,247.80 L446.70,247.05 L446.44,246.30 L446.19,245.55 L445.95,244.80 L445.71,244.05 L445.46,243.30 L445.20,242.55 L444.93,241.80 L444.63,241.05 L444.30,240.30 L443.94,239.55 L443.55,238.80 L443.15,238.05 L442.72,237.30 L442.28,236.55 L441.83,235.80 L441.37,235.05 L440.91,234.30 L440.46,233.55 L440.00,232.80 L439.56,232.05 L439.14,231.30 L438.72,230.55 L438.32,229.80 L437.94,229.05 L437.59,228.30 L437.28,227.55 L437.00,226.80 L436.75,226.05 L436.53,225.30 L436.32,224.55 L436.15,223.80 L436.01,223.05 L435.89,222.30 L435.78,221.55 L435.69,220.80 L435.61,220.05 L435.54,219.30 L435.47,218.55 L435.41,217.80 L435.36,217.05 L435.30,216.30 L435.25,215.55 L435.21,214.80 L435.16,214.05 L435.11,213.30 L435.05,212.55 L435.00,211.80 L434.94,211.05 L434.89,210.30 L434.83,209.55 L434.78,208.80 L434.72,208.05 L434.67,207.30 L434.62,206.55 L434.58,205.80 L434.53,205.05 L434.49,204.30 L434.45,203.55 L434.41,202.80 L434.37,202.05 L434.32,201.30 L434.28,200.55 L434.24,199.80 L434.20,199.05 L434.15,198.30 L434.10,197.55 L434.05,196.80 L434.00,196.05 L433.95,195.30 L433.90,194.55 L433.85,193.80 L433.80,193.05 L433.76,192.30 L433.71,191.55 L433.67,190.80 L433.63,190.05 L433.58,189.30 L433.54,188.55 L433.50,187.80Z" fill="#feb631" stroke="#2e2e2e" stroke-width="1.2" stroke-linejoin="round"/>
<path d="M541.90,19.50 L541.90,20.25 L541.90,21.00 L541.90,21.75 L541.89,22.50 L541.89,23.25 L541.88,24.00 L541.88,24.75 L541.87,25.50 L541.87,26.25 L541.86,27.00 L541.85,27.75 L541.84,28.50 L541.82,29.25 L541.79,30.00 L541.76,30.75 L541.72,31.50 L541.69,32.25 L541.65,33.00 L541.61,33.75 L541.56,34.50 L541.51,35.25 L541.46,36.00 L541.41,36.75 L541.37,37.50 L541.33,38.25 L541.31,39.00 L541.31,39.75 L541.33,40.50 L541.35,41.25 L541.40,42.00 L541.44,42.75 L541.50,43.50 L541.55,44.25 L541.59,45.00 L541.64,45.75 L541.67,46.50 L541.70,47.25 L541.74,48.00 L541.77,48.75 L541.80,49.50 L541.82,50.25 L541.84,51.00 L541.85,51.75 L541.85,52.50 L541.85,53.25 L541.85,54.00 L541.85,54.75 L541.85,55.50 L541.85,56.25 L541.85,57.00 L541.85,57.75 L541.85,58.50 L541.85,59.25 L541.85,60.00 L541.85,60.75 L541.85,61.50 L541.85,62.25 L541.85,63.00 L541.85,63.75 L541.85,64.50 L541.85,65.25 L541.85,66.00 L541.85,66.75 L541.85,67.50 L541.85,68.25 L541.85,69.00 L541.85,69.75 L541.85,70.50 L541.85,71.25 L541.85,72.00 L541.85,72.75 L541.85,73.50 L541.85,74.25 L541.85,75.00 L541.85,75.75 L541.85,76.50 L541.85,77.25 L541.85,78.00 L541.85,78.75 L541.85,79.50 L541.85,80.25 L541.85,81.00 L541.85,81.75 L541.85,82.50 L541.85,83.25 L541.84,84.00 L541.83,84.75 L541.80,85.50 L541.75,86.25 L541.70,87.00 L541.65,87.75 L541.60,88.50 L541.57,89.25 L541.56,90.00 L541.57,90.75 L541.60,91.50 L541.65,92.25 L541.70,93.00 L541.75,93.75 L541.80,94.50 L541.83,95.25 L541.84,96.00 L541.85,96.75 L541.85,97.50 L541.85,98.25 L541.85,99.00 L541.85,99.75 L541.85,100.50 L541.85,101.25 L541.85,102.00 L541.85,102.75 L541.85,103.50 L541.85,104.25 L541.85,105.00 L541.85,105.75 L541.85,106.50 L541.85,107.25 L541.85,108.00 L541.85,108.75 L541.85,109.50 L541.85,110.25 L541.85,111.00 L541.85,111.75 L541.85,112.50 L541.85,113.25 L541.85,114.00 L541.85,114.75 L541.85,115.50 L541.85,116.25 L541.85,117.00 L541.85,117.75 L541.85,118.50 L541.85,119.25 L541.85,120.00 L541.85,120.75 L541.85,121.50 L541.85,122.25 L541.85,123.00 L541.85,123.75 L541.85,124.50 L541.85,125.25 L541.85,126.00 L541.85,126.75 L541.85,127.50 L541.85,128.25 L541.85,129.00 L541.85,129.75 L541.85,130.50 L541.84,131.25 L541.81,132.00 L541.76,132.75 L541.70,133.50 L541.62,134.25 L541.55,135.00 L541.49,135.75 L541.44,136.50 L541.42,137.25 L541.42,138.00 L541.46,138.75 L541.51,139.50 L541.58,140.25 L541.65,141.00 L541.72,141.75 L541.78,142.50 L541.82,143.25 L541.84,144.00 L541.85,144.75 L541.85,145.50 L541.85,146.25 L541.85,147.00 L541.85,147.75 L541.85,148.50 L541.85,149.25 L541.85,150.00 L541.85,150.75 L541.85,151.50 L541.85,152.25 L541.85,153.00 L541.85,153.75 L541.85,154.50 L541.85,155.25 L541.85,156.00 L541.85,156.75 L541.85,157.50 L541.85,158.25 L541.85,159.00 L541.85,159.75 L541.85,160.50 L541.85,161.25 L541.85,162.00 L541.85,162.75 L541.85,163.50 L541.85,164.25 L541.85,165.00 L541.85,165.75 L541.85,166.50 L541.85,167.25 L541.85,168.00 L541.85,168.75 L541.85,169.50 L541.84,170.25 L541.81,171.00 L541.77,171.75 L541.71,172.50 L541.65,173.25 L541.58,174.00 L541.52,174.75 L541.46,175.50 L541.43,176.25 L541.41,177.00 L541.42,177.75 L541.45,178.50 L541.49,179.25 L541.54,180.00 L541.59,180.75 L541.64,181.50 L541.69,182.25 L541.72,183.00 L541.74,183.75 L541.74,184.50 L541.73,185.25 L541.71,186.00 L541.68,186.75 L541.64,187.50 L541.60,188.25 L541.56,189.00 L541.51,189.75 L541.47,190.50 L541.42,191.25 L541.36,192.00 L541.30,192.75 L541.24,193.50 L541.17,194.25 L541.09,195.00 L541.01,195.75 L540.93,196.50 L540.84,197.25 L540.75,198.00 L540.64,198.75 L540.52,199.50 L540.39,200.25 L540.24,201.00 L540.09,201.75 L539.95,202.50 L539.82,203.25 L539.71,204.00 L539.61,204.75 L539.53,205.50 L539.46,206.25 L539.38,207.00 L539.32,207.75 L539.25,208.50 L539.18,209.25 L539.11,210.00 L539.03,210.75 L538.95,211.50 L538.87,212.25 L538.79,213.00 L538.70,213.75 L538.60,214.50 L538.51,215.25 L538.40,216.00 L538.28,216.75 L538.15,217.50 L538.01,218.25 L537.86,219.00 L537.69,219.75 L537.52,220.50 L537.36,221.25 L537.19,222.00 L537.03,222.75 L536.87,223.50 L536.71,224.25 L536.55,225.00 L536.39,225.75 L536.22,226.50 L536.04,227.25 L535.85,228.00 L535.66,228.75 L535.46,229.50 L535.25,230.25 L535.04,231.00 L534.82,231.75 L534.60,232.50 L534.37,233.25 L534.12,234.00 L533.88,234.75 L533.63,235.50 L533.39,236.25 L533.15,237.00 L532.91,237.75 L532.65,238.50 L532.35,239.25 L531.97,240.00 L531.47,240.75 L530.87,241.50 L530.18,242.25 L529.47,243.00 L528.76,243.75 L528.08,244.50 L527.44,245.25 L526.83,246.00 L526.26,246.75 L525.71,247.50 L525.20,248.25 L524.72,249.00 L524.26,249.75 L523.84,250.50 L523.44,251.25 L523.07,252.00 L522.72,252.75 L522.39,253.50 L522.08,254.25 L521.77,255.00 L521.47,255.75 L521.16,256.50 L520.83,257.25 L520.48,258.00 L520.09,258.75 L519.66,259.50 L519.18,260.25 L518.64,261.00 L518.03,261.75 L517.36,262.50 L516.62,263.25 L515.81,264.00 L514.94,264.75 L514.01,265.50 L513.03,266.25 L512.00,267.00 L510.94,267.75 L509.84,268.50 L508.71,269.25 L507.55,270.00 L506.37,270.75 L505.16,271.50 L503.95,272.25 L502.73,273.00 L501.54,273.75 L500.37,274.50 L499.26,275.25 L498.22,276.00 L497.27,276.75 L496.42,277.50 L495.69,278.25 L495.08,279.00 L494.61,279.75 L494.27,280.50 L494.07,281.25 L493.99,282.00 L494.05,282.75 L494.24,283.50 L494.56,284.25 L495.01,285.00 L495.59,285.75 L496.31,286.50 L497.16,287.25 L498.15,288.00 L499.25,288.75 L500.45,289.50 L501.75,290.25 L503.13,291.00 L504.57,291.75 L506.07,292.50 L507.60,293.25 L509.15,294.00 L510.73,294.75 L512.31,295.50 L513.90,296.25 L515.48,297.00 L517.06,297.75 L518.62,298.50 L520.16,299.25 L521.67,300.00 L523.15,300.75 L524.59,301.50 L525.99,302.25 L527.37,303.00 L528.69,303.75 L529.96,304.50 L531.17,305.25 L532.31,306.00 L533.37,306.75 L534.36,307.50 L535.28,308.25 L536.14,309.00 L536.93,309.75 L537.67,310.50 L538.37,311.25 L539.02,312.00 L539.61,312.75 L540.12,313.50 L540.55,314.25 L540.92,315.00 L541.21,315.75 L541.42,316.50 L541.54,317.25 L541.63,318.00 L541.70,318.75 L541.75,319.50 L541.80,320.25 L541.84,321.00 L541.87,321.75 L541.89,322.50 L541.90,323.25 L541.90,323.50 L541.90,323.50 L541.90,323.25 L541.91,322.50 L541.93,321.75 L541.96,321.00 L542.00,320.25 L542.05,319.50 L542.10,318.75 L542.17,318.00 L542.26,317.25 L542.38,316.50 L542.59,315.75 L542.88,315.00 L543.25,314.25 L543.68,313.50 L544.19,312.75 L544.78,312.00 L545.43,311.25 L546.13,310.50 L546.87,309.75 L547.66,309.00 L548.52,308.25 L549.44,307.50 L550.43,306.75 L551.49,306.00 L552.63,305.25 L553.84,304.50 L555.11,303.75 L556.43,303.00 L557.81,302.25 L559.21,301.50 L560.65,300.75 L562.13,300.00 L563.64,299.25 L565.18,298.50 L566.74,297.75 L568.32,297.00 L569.90,296.25 L571.49,295.50 L573.07,294.75 L574.65,294.00 L576.20,293.25 L577.73,292.50 L579.23,291.75 L580.67,291.00 L582.05,290.25 L583.35,289.50 L584.55,288.75 L585.65,288.00 L586.64,287.25 L587.49,286.50 L588.21,285.75 L588.79,285.00 L589.24,284.25 L589.56,283.50 L589.75,282.75 L589.81,282.00 L589.73,281.25 L589.53,280.50 L589.19,279.75 L588.72,279.00 L588.11,278.25 L587.38,277.50 L586.53,276.75 L585.58,276.00 L584.54,275.25 L583.43,274.50 L582.26,273.75 L581.07,273.00 L579.85,272.25 L578.64,271.50 L577.43,270.75 L576.25,270.00 L575.09,269.25 L573.96,268.50 L572.86,267.75 L571.80,267.00 L570.77,266.25 L569.79,265.50 L568.86,264.75 L567.99,264.00 L567.18,263.25 L566.44,262.50 L565.77,261.75 L565.16,261.00 L564.62,260.25 L564.14,259.50 L563.71,258.75 L563.32,258.00 L562.97,257.25 L562.64,256.50 L562.33,255.75 L562.03,255.00 L561.72,254.25 L561.41,253.50 L561.08,252.75 L560.73,252.00 L560.36,251.25 L559.96,250.50 L559.54,249.75 L559.08,249.00 L558.60,248.25 L558.09,247.50 L557.54,246.75 L556.97,246.00 L556.36,245.25 L555.72,244.50 L555.04,243.75 L554.33,243.00 L553.62,242.25 L552.93,241.50 L552.33,240.75 L551.83,240.00 L551.45,239.25 L551.15,238.50 L550.89,237.75 L550.65,237.00 L550.41,236.25 L550.17,235.50 L549.92,234.75 L549.68,234.00 L549.43,233.25 L549.20,232.50 L548.98,231.75 L548.76,231.00 L548.55,230.25 L548.34,229.50 L548.14,228.75 L547.95,228.00 L547.76,227.25 L547.58,226.50 L547.41,225.75 L547.25,225.00 L547.09,224.25 L546.93,223.50 L546.77,222.75 L546.61,222.00 L546.44,221.25 L546.28,220.50 L546.11,219.75 L545.94,219.00 L545.79,218.25 L545.65,217.50 L545.52,216.75 L545.40,216.00 L545.29,215.25 L545.20,214.50 L545.10,213.75 L545.01,213.00 L544.93,212.25 L544.85,211.50 L544.77,210.75 L544.69,210.00 L544.62,209.25 L544.55,208.50 L544.48,207.75 L544.42,207.00 L544.34,206.25 L544.27,205.50 L544.19,204.75 L544.09,204.00 L543.98,203.25 L543.85,202.50 L543.71,201.75 L543.56,201.00 L543.41,200.25 L543.28,199.50 L543.16,198.75 L543.05,198.00 L542.96,197.25 L542.87,196.50 L542.79,195.75 L542.71,195.00 L542.63,194.25 L542.56,193.50 L542.50,192.75 L542.44,192.00 L542.38,191.25 L542.33,190.50 L542.29,189.75 L542.24,189.00 L542.20,188.25 L542.16,187.50 L542.12,186.75 L542.09,186.00 L542.07,185.25 L542.06,184.50 L542.06,183.75 L542.08,183.00 L542.11,182.25 L542.16,181.50 L542.21,180.75 L542.26,180.00 L542.31,179.25 L542.35,178.50 L542.38,177.75 L542.39,177.00 L542.37,176.25 L542.34,175.50 L542.28,174.75 L542.22,174.00 L542.15,173.25 L542.09,172.50 L542.03,171.75 L541.99,171.00 L541.96,170.25 L541.95,169.50 L541.95,168.75 L541.95,168.00 L541.95,167.25 L541.95,166.50 L541.95,165.75 L541.95,165.00 L541.95,164.25 L541.95,163.50 L541.95,162.75 L541.95,162.00 L541.95,161.25 L541.95,160.50 L541.95,159.75 L541.95,159.00 L541.95,158.25 L541.95,157.50 L541.95,156.75 L541.95,156.00 L541.95,155.25 L541.95,154.50 L541.95,153.75 L541.95,153.00 L541.95,152.25 L541.95,151.50 L541.95,150.75 L541.95,150.00 L541.95,149.25 L541.95,148.50 L541.95,147.75 L541.95,147.00 L541.95,146.25 L541.95,145.50 L541.95,144.75 L541.96,144.00 L541.98,143.25 L542.02,142.50 L542.08,141.75 L542.15,141.00 L542.22,140.25 L542.29,139.50 L542.34,138.75 L542.38,138.00 L542.38,137.25 L542.36,136.50 L542.31,135.75 L542.25,135.00 L542.17,134.25 L542.10,133.50 L542.04,132.75 L541.99,132.00 L541.96,131.25 L541.95,130.50 L541.95,129.75 L541.95,129.00 L541.95,128.25 L541.95,127.50 L541.95,126.75 L541.95,126.00 L541.95,125.25 L541.95,124.50 L541.95,123.75 L541.95,123.00 L541.95,122.25 L541.95,121.50 L541.95,120.75 L541.95,120.00 L541.95,119.25 L541.95,118.50 L541.95,117.75 L541.95,117.00 L541.95,116.25 L541.95,115.50 L541.95,114.75 L541.95,114.00 L541.95,113.25 L541.95,112.50 L541.95,111.75 L541.95,111.00 L541.95,110.25 L541.95,109.50 L541.95,108.75 L541.95,108.00 L541.95,107.25 L541.95,106.50 L541.95,105.75 L541.95,105.00 L541.95,104.25 L541.95,103.50 L541.95,102.75 L541.95,102.00 L541.95,101.25 L541.95,100.50 L541.95,99.75 L541.95,99.00 L541.95,98.25 L541.95,97.50 L541.95,96.75 L541.96,96.00 L541.97,95.25 L542.00,94.50 L542.05,93.75 L542.10,93.00 L542.15,92.25 L542.20,91.50 L542.23,90.75 L542.24,90.00 L542.23,89.25 L542.20,88.50 L542.15,87.75 L542.10,87.00 L542.05,86.25 L542.00,85.50 L541.97,84.75 L541.96,84.00 L541.95,83.25 L541.95,82.50 L541.95,81.75 L541.95,81.00 L541.95,80.25 L541.95,79.50 L541.95,78.75 L541.95,78.00 L541.95,77.25 L541.95,76.50 L541.95,75.75 L541.95,75.00 L541.95,74.25 L541.95,73.50 L541.95,72.75 L541.95,72.00 L541.95,71.25 L541.95,70.50 L541.95,69.75 L541.95,69.00 L541.95,68.25 L541.95,67.50 L541.95,66.75 L541.95,66.00 L541.95,65.25 L541.95,64.50 L541.95,63.75 L541.95,63.00 L541.95,62.25 L541.95,61.50 L541.95,60.75 L541.95,60.00 L541.95,59.25 L541.95,58.50 L541.95,57.75 L541.95,57.00 L541.95,56.25 L541.95,55.50 L541.95,54.75 L541.95,54.00 L541.95,53.25 L541.95,52.50 L541.95,51.75 L541.96,51.00 L541.98,50.25 L542.00,49.50 L542.03,48.75 L542.06,48.00 L542.10,47.25 L542.13,46.50 L542.16,45.75 L542.21,45.00 L542.25,44.25 L542.30,43.50 L542.36,42.75 L542.40,42.00 L542.45,41.25 L542.47,40.50 L542.49,39.75 L542.49,39.00 L542.47,38.25 L542.43,37.50 L542.39,36.75 L542.34,36.00 L542.29,35.25 L542.24,34.50 L542.19,33.75 L542.15,33.00 L542.11,32.25 L542.08,31.50 L542.04,30.75 L542.01,30.00 L541.98,29.25 L541.96,28.50 L541.95,27.75 L541.94,27.00 L541.93,26.25 L541.93,25.50 L541.92,24.75 L541.92,24.00 L541.91,23.25 L541.91,22.50 L541.90,21.75 L541.90,21.00 L541.90,20.25 L541.90,19.50Z" fill="#c28de9" stroke="#2e2e2e" stroke-width="1.2" stroke-linejoin="round"/>
<rect x="97.33" y="215.03" width="22.05" height="8.25" fill="rgba(255,0,0,0.14)" stroke="#f00" stroke-width="1.05"/>
<line x1="96.80" x2="119.90" y1="219.50" y2="219.50" stroke="#f00" stroke-width="3.2"/>
<rect x="205.62" y="227.03" width="21.95" height="6.35" fill="rgba(255,0,0,0.14)" stroke="#f00" stroke-width="1.05"/>
<line x1="205.10" x2="228.10" y1="230.20" y2="230.20" stroke="#f00" stroke-width="3.2"/>
<rect x="314.12" y="284.32" width="21.95" height="5.15" fill="rgba(255,0,0,0.85)" stroke="#f00" stroke-width="1.05"/>
<line x1="313.60" x2="336.60" y1="286.90" y2="286.90" stroke="#f00" stroke-width="3.2"/>
<rect x="422.52" y="273.88" width="21.95" height="8.60" fill="rgba(255,0,0,0.14)" stroke="#f00" stroke-width="1.05"/>
<line x1="422.00" x2="445.00" y1="277.90" y2="277.90" stroke="#f00" stroke-width="3.2"/>
<rect x="531.42" y="265.82" width="21.15" height="6.55" fill="rgba(255,0,0,0.14)" stroke="#f00" stroke-width="1.05"/>
<line x1="530.90" x2="553.10" y1="269.25" y2="269.25" stroke="#f00" stroke-width="3.2"/>
<path d="M42.9,2.8 V390.0 H607.5" fill="none" stroke="#303030" stroke-width="1.45" stroke-linecap="butt" stroke-linejoin="miter"/>
<line x1="39.8" x2="42.9" y1="69.3" y2="69.3" stroke="#333" stroke-width="1.0"/>
<text x="36.8" y="73.4" text-anchor="end" class="ty">0.4</text>
<line x1="39.8" x2="42.9" y1="157.35" y2="157.35" stroke="#333" stroke-width="1.0"/>
<text x="36.8" y="161.4" text-anchor="end" class="ty">0.3</text>
<line x1="39.8" x2="42.9" y1="245.35" y2="245.35" stroke="#333" stroke-width="1.0"/>
<text x="36.8" y="249.4" text-anchor="end" class="ty">0.2</text>
<line x1="39.8" x2="42.9" y1="333.45" y2="333.45" stroke="#333" stroke-width="1.0"/>
<text x="36.8" y="337.6" text-anchor="end" class="ty">0.1</text>
<line x1="108.2" x2="108.2" y1="390.0" y2="393.1" stroke="#333" stroke-width="1.0"/>
<text x="108.2" y="403.9" text-anchor="middle" class="tk">BAR</text>
<line x1="216.7" x2="216.7" y1="390.0" y2="393.1" stroke="#333" stroke-width="1.0"/>
<text x="216.7" y="403.9" text-anchor="middle" class="tk">HAF</text>
<line x1="325.1" x2="325.1" y1="390.0" y2="393.1" stroke="#333" stroke-width="1.0"/>
<text x="325.1" y="403.9" text-anchor="middle" class="tk">MAR</text>
<line x1="433.5" x2="433.5" y1="390.0" y2="393.1" stroke="#333" stroke-width="1.0"/>
<text x="433.5" y="403.9" text-anchor="middle" class="tk">MUR</text>
<line x1="541.9" x2="541.9" y1="390.0" y2="393.1" stroke="#333" stroke-width="1.0"/>
<text x="541.9" y="403.9" text-anchor="middle" class="tk">TPR</text>
<text x="324.5" y="419.4" text-anchor="middle" class="tt" style="font-size:13.4px">group</text>
<text transform="translate(16.4,196.8) rotate(-90)" text-anchor="middle" class="tt" style="font-size:13.1px">Froh_genome</text>
<text x="626.8" y="146.5" class="tt">group</text>
<rect x="627.5" y="155.00" width="18.5" height="18.5" fill="#699df3" stroke="#2e2e2e" stroke-width="1.15"/>
<rect x="628.95" y="159.35" width="15.6" height="9.8" fill="rgba(255,0,0,0.1)" stroke="#f00" stroke-width="1.1"/>
<line x1="628.95" x2="644.55" y1="164.25" y2="164.25" stroke="#f00" stroke-width="1.2"/>
<text x="654.2" y="168.8" class="lg">BAR</text>
<rect x="627.5" y="175.72" width="18.5" height="18.5" fill="#54dc89" stroke="#2e2e2e" stroke-width="1.15"/>
<rect x="628.95" y="180.07" width="15.6" height="9.8" fill="rgba(255,0,0,0.1)" stroke="#f00" stroke-width="1.1"/>
<line x1="628.95" x2="644.55" y1="184.97" y2="184.97" stroke="#f00" stroke-width="1.2"/>
<text x="654.2" y="189.1" class="lg">HAF</text>
<rect x="627.5" y="196.44" width="18.5" height="18.5" fill="#ec7064" stroke="#2e2e2e" stroke-width="1.15"/>
<rect x="628.95" y="200.79" width="15.6" height="9.8" fill="rgba(255,0,0,0.1)" stroke="#f00" stroke-width="1.1"/>
<line x1="628.95" x2="644.55" y1="205.69" y2="205.69" stroke="#f00" stroke-width="1.2"/>
<text x="654.2" y="209.8" class="lg">MAR</text>
<rect x="627.5" y="217.16" width="18.5" height="18.5" fill="#feb631" stroke="#2e2e2e" stroke-width="1.15"/>
<rect x="628.95" y="221.51" width="15.6" height="9.8" fill="rgba(255,0,0,0.1)" stroke="#f00" stroke-width="1.1"/>
<line x1="628.95" x2="644.55" y1="226.41" y2="226.41" stroke="#f00" stroke-width="1.2"/>
<text x="654.2" y="230.1" class="lg">MUR</text>
<rect x="627.5" y="237.88" width="18.5" height="18.5" fill="#c28de9" stroke="#2e2e2e" stroke-width="1.15"/>
<rect x="628.95" y="242.23" width="15.6" height="9.8" fill="rgba(255,0,0,0.1)" stroke="#f00" stroke-width="1.1"/>
<line x1="628.95" x2="644.55" y1="247.13" y2="247.13" stroke="#f00" stroke-width="1.2"/>
<text x="654.2" y="250.2" class="lg">TPR</text>
</svg>
</body></html>
